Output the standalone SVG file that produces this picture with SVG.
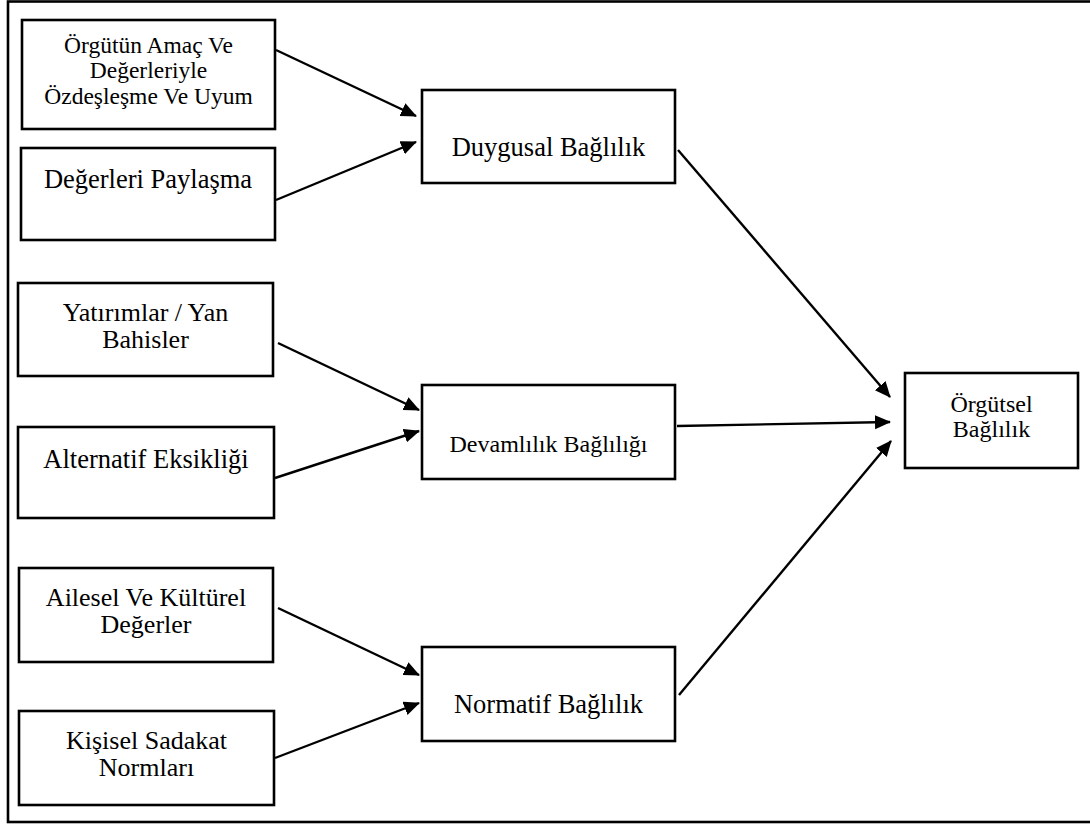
<svg xmlns="http://www.w3.org/2000/svg" width="1090" height="828" viewBox="0 0 1090 828">
  <style>
    .box { fill: #fff; stroke: #000; stroke-width: 2.6; }
    .frame { fill: none; stroke: #000; stroke-width: 2.6; }
    .lbl { font-family: "Liberation Serif", "Times New Roman", serif; fill: #000; text-anchor: middle; }
    .edge { stroke: #000; stroke-width: 2.4; fill: none; marker-end: url(#arrow); }
  </style>
  <defs>
    <marker id="arrow" markerUnits="userSpaceOnUse" markerWidth="18" markerHeight="16" refX="15" refY="7" orient="auto">
      <path d="M0,0 L16,7 L0,14 z" fill="#000"/>
    </marker>
  </defs>

  <rect width="1090" height="828" fill="#fff"/>
  <rect class="frame" x="8" y="1.5" width="1100" height="820.5"/>

  <g id="n-orgutun-amac">
    <rect class="box" x="22" y="20" width="253" height="109"/>
    <text class="lbl" font-size="23.5"><tspan x="148.5" y="53">Örgütün Amaç Ve</tspan><tspan x="148.5" y="78">Değerleriyle</tspan><tspan x="148.5" y="104">Özdeşleşme Ve Uyum</tspan></text>
  </g>
  <g id="n-degerleri-paylasma">
    <rect class="box" x="21" y="148" width="254" height="92"/>
    <text class="lbl" font-size="26.5" x="148" y="188">Değerleri Paylaşma</text>
  </g>
  <g id="n-yatirimlar">
    <rect class="box" x="18" y="283" width="255" height="93"/>
    <text class="lbl" font-size="26"><tspan x="145.5" y="321">Yatırımlar / Yan</tspan><tspan x="145.5" y="348">Bahisler</tspan></text>
  </g>
  <g id="n-alternatif">
    <rect class="box" x="18" y="427" width="256" height="91"/>
    <text class="lbl" font-size="26.5" x="146" y="468">Alternatif Eksikliği</text>
  </g>
  <g id="n-ailesel">
    <rect class="box" x="19" y="568" width="254" height="94"/>
    <text class="lbl" font-size="26"><tspan x="146" y="606">Ailesel Ve Kültürel</tspan><tspan x="146" y="633">Değerler</tspan></text>
  </g>
  <g id="n-kisisel">
    <rect class="box" x="19" y="711" width="255" height="94"/>
    <text class="lbl" font-size="26"><tspan x="146.5" y="749">Kişisel Sadakat</tspan><tspan x="146.5" y="776">Normları</tspan></text>
  </g>

  <g id="n-duygusal">
    <rect class="box" x="422" y="90" width="253" height="93"/>
    <text class="lbl" font-size="26.5" x="548.5" y="156">Duygusal Bağlılık</text>
  </g>
  <g id="n-devamlilik">
    <rect class="box" x="422" y="385" width="253" height="94"/>
    <text class="lbl" font-size="24" x="548.5" y="452">Devamlılık Bağlılığı</text>
  </g>
  <g id="n-normatif">
    <rect class="box" x="422" y="647" width="253" height="94"/>
    <text class="lbl" font-size="26.5" x="548.5" y="713">Normatif Bağlılık</text>
  </g>

  <g id="n-orgutsel">
    <rect class="box" x="905" y="373" width="173" height="95"/>
    <text class="lbl" font-size="24"><tspan x="991.5" y="412">Örgütsel</tspan><tspan x="991.5" y="437">Bağlılık</tspan></text>
  </g>

  <g id="connectors">
    <line class="edge" x1="276" y1="50" x2="416" y2="116"/>
    <line class="edge" x1="276" y1="200" x2="416" y2="142"/>
    <line class="edge" x1="278" y1="343" x2="419" y2="410"/>
    <line class="edge" x1="275" y1="478" x2="419" y2="431"/>
    <line class="edge" x1="278" y1="608" x2="419" y2="675"/>
    <line class="edge" x1="275" y1="758" x2="419" y2="703"/>
    <line class="edge" x1="678" y1="150" x2="890" y2="397"/>
    <line class="edge" x1="677" y1="426" x2="890" y2="422"/>
    <line class="edge" x1="679" y1="695" x2="891" y2="441"/>
  </g>
</svg>
